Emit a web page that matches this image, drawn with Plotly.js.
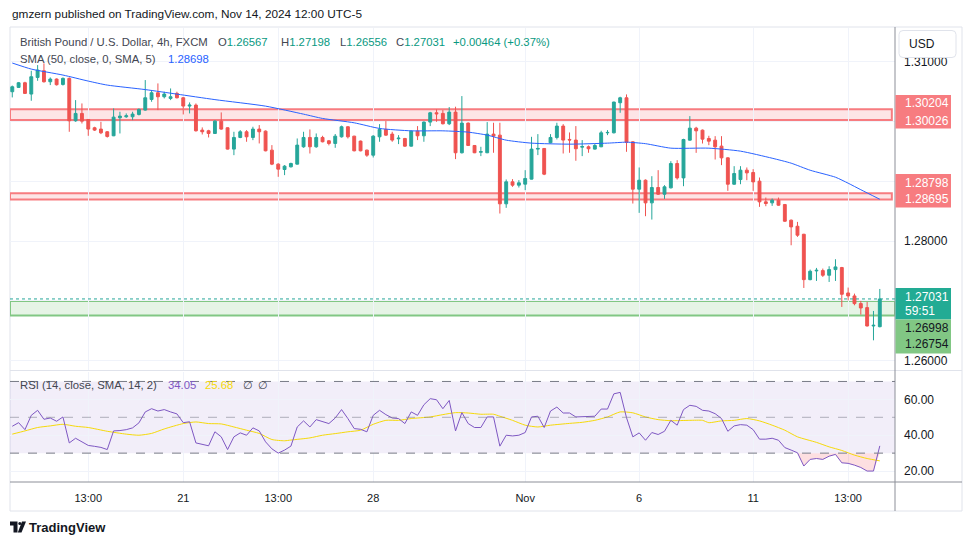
<!DOCTYPE html>
<html><head><meta charset="utf-8">
<script src="https://cdn.plot.ly/plotly-3.0.1.min.js"></script>
<style>html,body{margin:0;padding:0;background:#fff;overflow:hidden}#chart{width:970px;height:545px}</style>
</head><body><div id="chart"></div>
<script>
// ---------- DATA ----------
const open = [1.30497,1.30569,1.30647,1.30458,1.30736,1.30848,1.30664,1.30709,1.30619,1.30720,
1.30011,1.30134,1.30033,1.29894,1.29872,1.29827,1.29760,1.30061,1.30078,1.30078,
1.30117,1.30190,1.30368,1.30480,1.30413,1.30385,1.30469,1.30396,1.30257,1.30273,
1.29855,1.29844,1.29799,1.30005,1.29894,1.29537,1.29732,1.29827,1.29732,1.29872,
1.29838,1.29520,1.29286,1.29196,1.29241,1.29286,1.29576,1.29732,1.29576,1.29732,
1.29676,1.29632,1.29743,1.29911,1.29754,1.29671,1.29520,1.29436,1.29743,1.29866,
1.29788,1.29710,1.29715,1.29587,1.29838,1.29760,1.29989,1.30145,1.30134,1.29961,
1.30156,1.29476,1.29972,1.29598,1.29485,1.29476,1.29788,1.29771,1.28622,1.28990,
1.28934,1.28951,1.29035,1.29537,1.29548,1.29643,1.29732,1.29922,1.29699,1.29688,
1.29570,1.29576,1.29537,1.29576,1.29810,1.29810,1.30313,1.30396,1.29659,1.28867,
1.29017,1.28638,1.28895,1.28783,1.28889,1.29296,1.29056,1.29687,1.29888,1.29854,
1.29715,1.29687,1.29587,1.29391,1.28950,1.29028,1.29185,1.29146,1.29001,1.28655,
1.28638,1.28683,1.28610,1.28348,1.28247,1.28113,1.27354,1.27500,1.27505,1.27427,
1.27522,1.27556,1.27131,1.27081,1.26953,1.26886,1.26579,1.26567];
const high = [1.30600,1.30660,1.30664,1.30848,1.30943,1.30971,1.30736,1.30720,1.30736,1.30736,
1.30357,1.30301,1.30040,1.29911,1.29994,1.29840,1.30218,1.30162,1.30134,1.30162,
1.30218,1.30692,1.30524,1.30636,1.30497,1.30552,1.30497,1.30410,1.30318,1.30301,
1.29900,1.29860,1.30020,1.30151,1.29900,1.29827,1.29855,1.29855,1.29911,1.29939,
1.29850,1.29604,1.29300,1.29270,1.29310,1.29715,1.29827,1.29866,1.29799,1.29760,
1.29690,1.29790,1.29930,1.29920,1.29760,1.29680,1.29530,1.29770,1.29955,1.30006,
1.29827,1.29771,1.29725,1.29850,1.29922,1.30000,1.30160,1.30201,1.30190,1.30240,
1.30246,1.30424,1.29983,1.29605,1.29576,1.29989,1.29978,1.29978,1.29029,1.29035,
1.29018,1.29185,1.29743,1.29788,1.29555,1.29788,1.29978,1.29955,1.29816,1.29922,
1.29688,1.29598,1.29632,1.29844,1.29855,1.30330,1.30413,1.30452,1.29670,1.29230,
1.29030,1.29084,1.29185,1.28934,1.29335,1.29352,1.29710,1.30089,1.29910,1.29865,
1.29760,1.29754,1.29754,1.29400,1.29252,1.29252,1.29230,1.29202,1.29062,1.28727,
1.28711,1.28727,1.28620,1.28360,1.28320,1.28120,1.27522,1.27550,1.27539,1.27578,
1.27695,1.27567,1.27221,1.27120,1.26998,1.26981,1.26830,1.27198];
const low = [1.30402,1.30560,1.30460,1.30346,1.30680,1.30650,1.30608,1.30600,1.30600,1.29827,
1.29994,1.29966,1.29760,1.29840,1.29788,1.29730,1.29754,1.29799,1.30060,1.30022,
1.30100,1.30180,1.30329,1.30190,1.30385,1.30357,1.30385,1.30117,1.30134,1.29830,
1.29782,1.29732,1.29790,1.29860,1.29530,1.29436,1.29720,1.29660,1.29687,1.29632,
1.29500,1.29269,1.29074,1.29102,1.29230,1.29280,1.29560,1.29464,1.29560,1.29650,
1.29600,1.29559,1.29730,1.29715,1.29500,1.29500,1.29408,1.29397,1.29660,1.29760,
1.29660,1.29621,1.29576,1.29580,1.29688,1.29660,1.29922,1.29994,1.29950,1.29939,
1.29370,1.29464,1.29590,1.29470,1.29420,1.29470,1.29476,1.28460,1.28555,1.28906,
1.28895,1.28851,1.29030,1.29437,1.29102,1.29632,1.29699,1.29464,1.29476,1.29342,
1.29420,1.29476,1.29530,1.29570,1.29771,1.29800,1.30145,1.29492,1.28627,1.28471,
1.28415,1.28359,1.28770,1.28705,1.28880,1.29028,1.28917,1.29680,1.29475,1.29631,
1.29603,1.29363,1.29269,1.28839,1.28940,1.28950,1.29017,1.28839,1.28571,1.28582,
1.28588,1.28590,1.28320,1.27929,1.28069,1.27215,1.27343,1.27332,1.27399,1.27315,
1.27332,1.26897,1.27009,1.26925,1.26769,1.26570,1.26339,1.26556];
const close = [1.30580,1.30647,1.30469,1.30748,1.30859,1.30664,1.30709,1.30614,1.30720,1.30011,
1.30134,1.30005,1.29872,1.29855,1.29810,1.29749,1.30072,1.30089,1.30094,1.30123,
1.30201,1.30396,1.30480,1.30413,1.30458,1.30413,1.30396,1.30257,1.30273,1.29844,
1.29827,1.29799,1.30005,1.29872,1.29537,1.29732,1.29827,1.29743,1.29872,1.29827,
1.29509,1.29286,1.29202,1.29252,1.29297,1.29604,1.29732,1.29576,1.29732,1.29660,
1.29632,1.29754,1.29911,1.29743,1.29509,1.29509,1.29436,1.29754,1.29866,1.29771,
1.29688,1.29720,1.29587,1.29838,1.29760,1.29989,1.30145,1.30128,1.29961,1.30156,
1.29476,1.29972,1.29598,1.29476,1.29495,1.29788,1.29755,1.28622,1.28990,1.28934,
1.28973,1.29046,1.29537,1.29548,1.29118,1.29732,1.29922,1.29688,1.29690,1.29543,
1.29580,1.29543,1.29598,1.29810,1.29816,1.30324,1.30396,1.29650,1.28867,1.29017,
1.28638,1.28895,1.28783,1.28906,1.29296,1.29056,1.29698,1.29888,1.29843,1.29704,
1.29670,1.29575,1.29391,1.28950,1.29129,1.29185,1.29140,1.28989,1.28655,1.28627,
1.28683,1.28599,1.28331,1.28236,1.28097,1.27354,1.27494,1.27510,1.27427,1.27522,
1.27567,1.27109,1.27081,1.26953,1.26880,1.26579,1.26590,1.27031];

const smaIdx = [0,3,8,12,15,21,26,32,40,46,49,54,58,63,68,72,75,78,82,88,94,97,100,104,110,115,120,123,126,130,132,134,137];
const smaVal = [1.30977,1.30876,1.30776,1.30675,1.30608,1.30533,1.30457,1.30365,1.30256,1.30122,1.30050,1.29977,1.29883,1.29843,1.29843,1.29821,1.29771,1.29687,1.29637,1.29620,1.29637,1.29653,1.29628,1.29553,1.29553,1.29503,1.29385,1.29302,1.29184,1.29067,1.28967,1.28858,1.28698];

const rsi = [45.0,47.0,43.1,51.1,53.9,48.9,49.6,47.8,50.2,35.7,
38.3,36.5,34.3,33.8,33.2,32.0,42.4,42.6,43.1,44.1,
46.9,53.0,54.8,53.5,54.3,53.0,51.9,47.0,47.5,35.7,
35.0,34.1,41.9,39.1,32.0,39.1,41.3,40.0,44.1,42.4,
36.3,32.4,30.0,31.7,33.9,44.6,48.0,44.6,48.7,47.4,
46.5,49.6,54.3,49.3,43.7,43.3,41.9,51.1,53.9,51.5,
49.6,49.3,46.5,53.0,51.1,57.0,60.4,59.8,54.8,59.4,
42.4,52.6,46.5,44.3,44.3,50.2,50.2,33.9,40.0,39.6,
40.0,41.5,50.2,50.6,44.3,53.5,55.7,52.4,52.4,50.2,
50.2,50.2,50.6,54.6,54.6,63.1,63.9,49.8,39.1,41.3,
37.2,41.5,40.4,42.2,48.3,45.6,54.3,56.7,56.1,53.9,
53.5,52.0,49.3,42.2,45.2,45.9,45.6,43.1,37.8,37.8,
38.3,37.2,33.1,31.7,30.2,22.8,26.5,27.0,26.5,28.3,
29.3,24.6,24.3,23.3,22.0,20.0,20.0,34.05];

const rsiMaIdx = [0,2,4,6,8,10,12,15,18,20,22,24,27,29,31,33,35,37,39,41,43,44,47,49,51,53,55,57,59,61,63,66,68,70,72,74,76,77,79,81,83,85,88,90,92,94,96,98,100,102,104,107,109,110,112,114,116,118,120,122,124,127,129,131,133,135,137];
const rsiMaVal = [40.6,42.4,44.3,45.2,46.1,45.0,44.3,42.2,40.6,40.0,41.0,43.5,46.5,47.4,46.5,46.3,44.6,42.8,41.0,37.6,36.9,37.3,38.5,40.0,40.9,41.9,42.8,46.1,48.3,48.3,49.3,50.2,51.5,52.6,52.4,51.7,51.7,50.6,48.3,45.6,44.6,45.6,46.6,47.2,48.3,50.2,53.0,52.5,50.2,48.7,48.1,48.3,48.3,47.0,48.0,48.3,49.3,48.0,45.6,42.8,39.1,36.0,33.5,31.5,28.9,27.0,25.68];

const tickIdx = [12,27,42,57,81,99,117,132];
const tickText = ['13:00','21','13:00','28','Nov','6','11','13:00'];
const priceTicks = [1.26,1.27,1.28,1.29,1.30,1.31];
const priceTickText = ['1.26000','','1.28000','','','1.31000'];
const rsiTicks = [20,40,60];
const rsiTickText = ['20.00','40.00','60.00'];

const upperZone = [1.30204, 1.30026];
const lowerZone = [1.28798, 1.28695];
const supportZone = [1.26998, 1.26754];
const lastPrice = 1.27031;
const countdown = '59:51';
const ohlcText = {o:'1.26567', h:'1.27198', l:'1.26556', c:'1.27031', chg:'+0.00464 (+0.37%)'};
const smaLast = '1.28698';
const rsiLast = '34.05', rsiMaLast = '25.68';

// ---------- LAYOUT HELPERS ----------
const L = 10, R = 895, T = 28, B = 482;
const px = x => (x - L) / (R - L);
const py = y => (B - y) / (B - T);
const FONT = '"Liberation Sans", Arial, sans-serif';
const barIdx = open.map((_, i) => i);
const XR = [-0.36, 139.4];

const traces = [];
traces.push({type:'candlestick', x:barIdx, open:open, high:high, low:low, close:close,
  xaxis:'x', yaxis:'y', whiskerwidth:0, hoverinfo:'skip', showlegend:false,
  increasing:{line:{color:'#26a69a', width:1}, fillcolor:'#26a69a'},
  decreasing:{line:{color:'#ef5350', width:1}, fillcolor:'#ef5350'}});
traces.push({type:'scatter', mode:'lines', x:smaIdx, y:smaVal, xaxis:'x', yaxis:'y',
  line:{color:'#2962ff', width:1, shape:'spline', smoothing:0.6}, hoverinfo:'skip', showlegend:false});

// oversold fill (region where RSI is below 30)
const osIdx = [], osBase = [], osVal = [];
rsi.forEach((v, i) => { if (i >= 124) { osIdx.push(i); osBase.push(30); osVal.push(Math.min(v, 30)); } });
traces.push({type:'scatter', mode:'lines', x:osIdx, y:osBase, xaxis:'x', yaxis:'y2',
  line:{width:0, color:'rgba(0,0,0,0)'}, hoverinfo:'skip', showlegend:false});
traces.push({type:'scatter', mode:'lines', x:osIdx, y:osVal, xaxis:'x', yaxis:'y2', fill:'tonexty',
  fillcolor:'rgba(242,54,69,0.16)', line:{width:0, color:'rgba(0,0,0,0)'}, hoverinfo:'skip', showlegend:false});
traces.push({type:'scatter', mode:'lines', x:rsiMaIdx, y:rsiMaVal, xaxis:'x', yaxis:'y2',
  line:{color:'#f5d90a', width:1, shape:'spline', smoothing:0.6}, hoverinfo:'skip', showlegend:false});
traces.push({type:'scatter', mode:'lines', x:barIdx, y:rsi, xaxis:'x', yaxis:'y2',
  line:{color:'#7e57c2', width:1}, hoverinfo:'skip', showlegend:false});

const shapes = [];
// frame
shapes.push({type:'rect', xref:'paper', yref:'paper', x0:px(10), x1:px(962), y0:py(511), y1:py(27),
  line:{color:'#e0e3eb', width:1}, fillcolor:'rgba(0,0,0,0)', layer:'below'});
// pane separator
shapes.push({type:'line', xref:'paper', yref:'paper', x0:px(10), x1:px(962), y0:py(370.5), y1:py(370.5), line:{color:'#e0e3eb', width:1}});
// axis lines
shapes.push({type:'line', xref:'paper', yref:'paper', x0:px(895), x1:px(895), y0:py(511), y1:py(27), line:{color:'#8c8f98', width:1}, layer:'above'});
shapes.push({type:'line', xref:'paper', yref:'paper', x0:px(10), x1:px(962), y0:py(482), y1:py(482), line:{color:'#8c8f98', width:1}, layer:'above'});
// zones
function zone(z, fill, line) {
  shapes.push({type:'rect', xref:'x', yref:'y', x0:XR[0], x1:138.9, y0:z[1], y1:z[0],
    fillcolor:fill, line:{color:line, width:2}, layer:'below'});
}
zone(upperZone, 'rgba(247,124,128,0.2)', '#f77c80');
zone(lowerZone, 'rgba(247,124,128,0.2)', '#f77c80');
shapes.push({type:'rect', xref:'x', yref:'y', x0:XR[0], x1:XR[1], y0:supportZone[1], y1:supportZone[0],
  fillcolor:'rgba(129,199,132,0.2)', line:{color:'#81c784', width:2}, layer:'below'});
// last price dotted line
shapes.push({type:'line', xref:'x', yref:'y', x0:XR[0], x1:XR[1], y0:lastPrice, y1:lastPrice,
  line:{color:'#26a69a', width:1, dash:'dot'}});
// RSI band and levels
shapes.push({type:'rect', xref:'x', yref:'y2', x0:XR[0], x1:XR[1], y0:30, y1:70,
  fillcolor:'rgba(126,87,194,0.1)', line:{width:0}, layer:'below'});
[[70,'#787b86'],[50,'rgba(120,123,134,0.55)'],[30,'#787b86']].forEach(([v,c]) =>
  shapes.push({type:'line', xref:'x', yref:'y2', x0:XR[0], x1:XR[1], y0:v, y1:v, line:{color:c, width:1, dash:'dash'}}));
// right-axis label boxes
function box(y0, y1, color) {
  shapes.push({type:'rect', xref:'paper', yref:'paper', x0:px(895.5), x1:px(951), y0:py(y1), y1:py(y0),
    fillcolor:color, line:{width:0}, layer:'above'});
}
box(95, 128.5, '#f77c80');
box(174, 207.5, '#f77c80');
box(288, 319.5, '#22ab94');
box(319.5, 353.5, '#81c784');
// USD button
(function(){
  const x0=px(899), x1=px(956), y0=py(30.5), y1=py(57.5), rx=4/885, ry=4/454;
  shapes.push({type:'path', xref:'paper', yref:'paper', layer:'above',
    path:`M${x0+rx},${y0} L${x1-rx},${y0} Q${x1},${y0} ${x1},${y0-ry} L${x1},${y1+ry} Q${x1},${y1} ${x1-rx},${y1} L${x0+rx},${y1} Q${x0},${y1} ${x0},${y1+ry} L${x0},${y0-ry} Q${x0},${y0} ${x0+rx},${y0} Z`,
    fillcolor:'#ffffff', line:{color:'#e0e3eb', width:1}});
})();
// TradingView logo mark
shapes.push({type:'path', xref:'paper', yref:'paper', layer:'above', line:{width:0}, fillcolor:'#131722',
  path:`M${px(10)},${py(521.5)} L${px(17.5)},${py(521.5)} L${px(17.5)},${py(532.5)} L${px(13.5)},${py(532.5)} L${px(13.5)},${py(525.5)} L${px(10)},${py(525.5)} Z`});
shapes.push({type:'circle', xref:'paper', yref:'paper', layer:'above', line:{width:0}, fillcolor:'#131722',
  x0:px(18.3), x1:px(21.3), y0:py(525), y1:py(522)});
shapes.push({type:'path', xref:'paper', yref:'paper', layer:'above', line:{width:0}, fillcolor:'#131722',
  path:`M${px(22)},${py(521.5)} L${px(26)},${py(521.5)} L${px(21.5)},${py(532.5)} L${px(17.8)},${py(532.5)} Z`});

const ann = [];
function txt(x, y, text, opts) {
  opts = opts || {};
  ann.push({xref:'paper', yref:'paper', x:px(x), y:py(y), text:text, showarrow:false,
    xanchor:opts.xanchor || 'left', yanchor:'middle',
    font:{family:FONT, size:opts.size || 12, color:opts.color || '#131722', weight:opts.weight || 'normal'}});
}
const TEAL = '#089981';
const LG = 11.3;
txt(10, 14, 'gmzern published on TradingView.com, Nov 14, 2024 12:00 UTC-5', {size:11.8});
txt(18, 42, 'British Pound / U.S. Dollar, 4h, FXCM', {color:'#434651', size:LG});
txt(216, 42, `O<span style="color:${TEAL}">${ohlcText.o}</span>`, {color:'#434651', size:LG});
txt(279, 42, `H<span style="color:${TEAL}">${ohlcText.h}</span>`, {color:'#434651', size:LG});
txt(338, 42, `L<span style="color:${TEAL}">${ohlcText.l}</span>`, {color:'#434651', size:LG});
txt(394, 42, `C<span style="color:${TEAL}">${ohlcText.c}</span>`, {color:'#434651', size:LG});
txt(451, 42, ohlcText.chg, {color:TEAL, size:LG});
txt(18, 59, 'SMA (50, close, 0, SMA, 5)', {color:'#434651', size:LG});
txt(166, 59, smaLast, {color:'#2962ff', size:LG});
txt(18, 385, 'RSI (14, close, SMA, 14, 2)', {color:'#434651', size:LG});
txt(166, 385, rsiLast, {color:'#7e57c2', size:LG});
txt(203, 385, rsiMaLast, {color:'#f5d90a', size:LG});
txt(241, 385, '∅', {color:'#434651', size:LG});
txt(256, 385, '∅', {color:'#434651', size:LG});
txt(907, 44, 'USD', {size:12});
// right-axis labels
txt(903, 103.3, upperZone[0].toFixed(5), {color:'#ffffff'});
txt(903, 120.7, upperZone[1].toFixed(5), {color:'#ffffff'});
txt(903, 182.7, lowerZone[0].toFixed(5), {color:'#ffffff'});
txt(903, 199.3, lowerZone[1].toFixed(5), {color:'#ffffff'});
txt(903, 297.3, lastPrice.toFixed(5), {color:'#ffffff'});
txt(903, 311, countdown, {color:'#ffffff'});
txt(903, 328.3, supportZone[0].toFixed(5), {color:'#131722'});
txt(903, 344.3, supportZone[1].toFixed(5), {color:'#131722'});
// logo text
txt(27, 527, 'TradingView', {size:13, weight:'bold'});

const layout = {
  width:970, height:545, margin:{l:L, r:970-R, t:T, b:545-B},
  paper_bgcolor:'#ffffff', plot_bgcolor:'#ffffff', showlegend:false, hovermode:false,
  boxgap:0.35, dragmode:false,
  font:{family:FONT, color:'#131722'},
  xaxis:{anchor:'y2', range:XR, tickvals:tickIdx, ticktext:tickText, showgrid:true, gridcolor:'#f0f3fa',
    zeroline:false, showline:false, ticks:'', tickfont:{size:11, color:'#131722', family:FONT},
    ticklabelstandoff:8, rangeslider:{visible:false}, fixedrange:true},
  yaxis:{domain:[py(370.5), 1], range:[1.25834, 1.31563], side:'right', anchor:'x',
    tickvals:priceTicks, ticktext:priceTickText, showgrid:true, gridcolor:'#f0f3fa', zeroline:false,
    showline:false, ticks:'', tickfont:{size:12, color:'#131722', family:FONT}, ticklabelstandoff:8, fixedrange:true},
  yaxis2:{domain:[0, py(371.5)], range:[13.89, 75.56], side:'right', anchor:'x',
    tickvals:rsiTicks, ticktext:rsiTickText, showgrid:true, gridcolor:'#f0f3fa', zeroline:false,
    showline:false, ticks:'', tickfont:{size:12, color:'#131722', family:FONT}, ticklabelstandoff:8, fixedrange:true},
  shapes:shapes, annotations:ann
};
Plotly.newPlot('chart', traces, layout, {staticPlot:true, displayModeBar:false});
</script>
</body></html>
